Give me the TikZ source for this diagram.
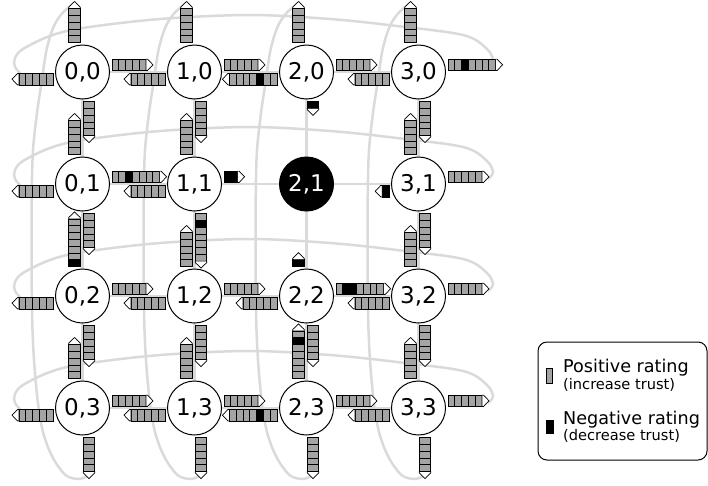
\documentclass[tikz,border=0pt]{standalone}
\usepackage{fontspec}
\setmainfont{DejaVu Sans}
\usetikzlibrary{calc}
\pgfdeclarelayer{bg}
\pgfsetlayers{bg,main}
\definecolor{cellgray}{HTML}{A4A4A4}
\definecolor{ringgray}{HTML}{DADADA}
\newcommand{\cw}{6.8}
\newcommand{\ch}{11.4}
\newcommand{\train}[3]{%
  \begin{scope}[shift={#1},rotate=#2]
    \foreach \cc [count=\i] in {#3}{%
      \draw[cellbox,\cc] ({(\i-1)*\cw},{-\ch/2}) rectangle ++(\cw,\ch);
      \xdef\lastn{\i}}
    \draw[tipbox] ({\lastn*\cw},{-\ch/2}) -- ({\lastn*\cw+1.5},{-\ch/2}) -- ({\lastn*\cw+7},0) -- ({\lastn*\cw+1.5},{\ch/2}) -- ({\lastn*\cw},{\ch/2}) -- cycle;
  \end{scope}}
\newcommand{\trR}[2][cg,cg,cg,cg,cg]{\train{($(#2.east)+(2.5,-7.2)$)}{0}{#1}}
\newcommand{\trL}[2][cg,cg,cg,cg,cg]{\train{($(#2.west)+(-2.5,7.2)$)}{180}{#1}}
\newcommand{\trU}[2][cg,cg,cg,cg,cg]{\train{($(#2.north)+(-8,-2.5)$)}{90}{#1}}
\newcommand{\trD}[2][cg,cg,cg,cg,cg]{\train{($(#2.south)+(6.5,2.5)$)}{-90}{#1}}
\tikzset{
  nd/.style={circle, draw, line width=1pt, fill=white, minimum size=54pt, inner sep=0pt, outer sep=0pt, font=\fontsize{23}{23}\selectfont},
  bad/.style={nd, fill=black, text=white},
  ring/.style={draw=ringgray, line width=2.5pt},
  cellbox/.style={draw=black, line width=0.7pt},
  cg/.style={fill=cellgray},
  ck/.style={fill=black},
  tipbox/.style={draw=black, fill=white, line width=0.7pt, line join=miter},
  legtxt/.style={anchor=base west, inner sep=0pt, font=\fontsize{17.6}{18}\selectfont},
  legsub/.style={anchor=base west, inner sep=0pt, font=\fontsize{14.6}{15}\selectfont},
}
\begin{document}
\begin{tikzpicture}[x=1pt,y=-1pt]
\useasboundingbox (0,0) rectangle (708,485);
% nodes
\node[nd] (n00) at (82.5,72) {0,0};
\node[nd] (n10) at (194.5,72) {1,0};
\node[nd] (n20) at (306.5,72) {2,0};
\node[nd] (n30) at (418.5,72) {3,0};
\node[nd] (n01) at (82.5,184) {0,1};
\node[nd] (n11) at (194.5,184) {1,1};
\node[bad] (n21) at (306.5,184) {2,1};
\node[nd] (n31) at (418.5,184) {3,1};
\node[nd] (n02) at (82.5,296) {0,2};
\node[nd] (n12) at (194.5,296) {1,2};
\node[nd] (n22) at (306.5,296) {2,2};
\node[nd] (n32) at (418.5,296) {3,2};
\node[nd] (n03) at (82.5,408) {0,3};
\node[nd] (n13) at (194.5,408) {1,3};
\node[nd] (n23) at (306.5,408) {2,3};
\node[nd] (n33) at (418.5,408) {3,3};
% grid links and wrap rings
\begin{pgfonlayer}{bg}
\foreach \r in {0,1,2,3}{
  \draw[ring] (n0\r) -- (n1\r) -- (n2\r) -- (n3\r);
  \draw[ring] (n\r0) -- (n\r1) -- (n\r2) -- (n\r3);
  \pgfmathsetmacro\cy{72+112*\r}
  \draw[ring] plot[smooth,tension=0.55] coordinates {(24,\cy+5) (15,\cy-5) (15,\cy-14) (23,\cy-23) (50,\cy-36) (83,\cy-44) (160,\cy-53) (250,\cy-57) (330,\cy-53) (397,\cy-46) (463,\cy-37) (486,\cy-24) (493,\cy-12) (488,\cy-5)};
  \pgfmathsetmacro\cx{82.5+112*\r}
  \draw[ring] plot[smooth,tension=0.55] coordinates {(\cx-8,3) (\cx-20,13) (\cx-29,27) (\cx-36,50) (\cx-41,83) (\cx-46,117) (\cx-50,160) (\cx-51,240) (\cx-50,330) (\cx-46,390) (\cx-40,430) (\cx-30,457) (\cx-17,475) (\cx-4,479) (\cx+5,476)};
}
\end{pgfonlayer}
% trains - row 0
\trL{n00}\trR{n00}\trU{n00}\trD{n00}
\trL{n10}\trR{n10}\trU{n10}\trD{n10}
\trL[cg,cg,ck,cg,cg,cg,cg]{n20}\trR{n20}\trU{n20}\trD[ck]{n20}
\trL{n30}\trR[cg,cg,ck,cg,cg,cg,cg]{n30}\trU{n30}\trD{n30}
% row 1
\trL{n01}\trR[cg,cg,ck,cg,cg,cg,cg]{n01}\trU{n01}\trD{n01}
\trL{n11}\trR[ck,ck]{n11}\trU{n11}\trD[cg,ck,cg,cg,cg,cg,cg]{n11}
\trL[ck]{n31}\trR{n31}\trU{n31}\trD{n31}
% row 2
\trL{n02}\trR{n02}\trU[ck,cg,cg,cg,cg,cg,cg]{n02}\trD{n02}
\trL{n12}\trR{n12}\trU{n12}\trD{n12}
\trL{n22}\trR[cg,ck,ck,cg,cg,cg,cg]{n22}\trU[ck]{n22}\trD{n22}
\trL{n32}\trR{n32}\trU{n32}\trD{n32}
% row 3
\trL{n03}\trR{n03}\trU{n03}\trD{n03}
\trL{n13}\trR{n13}\trU{n13}\trD{n13}
\trL[cg,cg,ck,cg,cg,cg,cg]{n23}\trR{n23}\trU[cg,cg,cg,cg,cg,ck,cg]{n23}\trD{n23}
\trL{n33}\trR{n33}\trU{n33}\trD{n33}
% legend
\node[draw, line width=1pt, rounded corners=9pt, minimum width=169pt, minimum height=118pt, inner sep=0pt] (legend) at (622.5,401) {};
\node[draw=black, fill=cellgray, line width=0.6pt, minimum width=6pt, minimum height=15pt, inner sep=0pt] (posicon) at (549.5,375.5) {};
\node[fill=black, minimum width=8pt, minimum height=14pt, inner sep=0pt] (negicon) at (550,427) {};
\node[legtxt] (pos1) at (563,372.7) {Positive rating};
\node[legsub] (pos2) at (563,389.3) {(increase trust)};
\node[legtxt] (neg1) at (563,424.3) {Negative rating};
\node[legsub] (neg2) at (563,440.3) {(decrease trust)};
\end{tikzpicture}
\end{document}
